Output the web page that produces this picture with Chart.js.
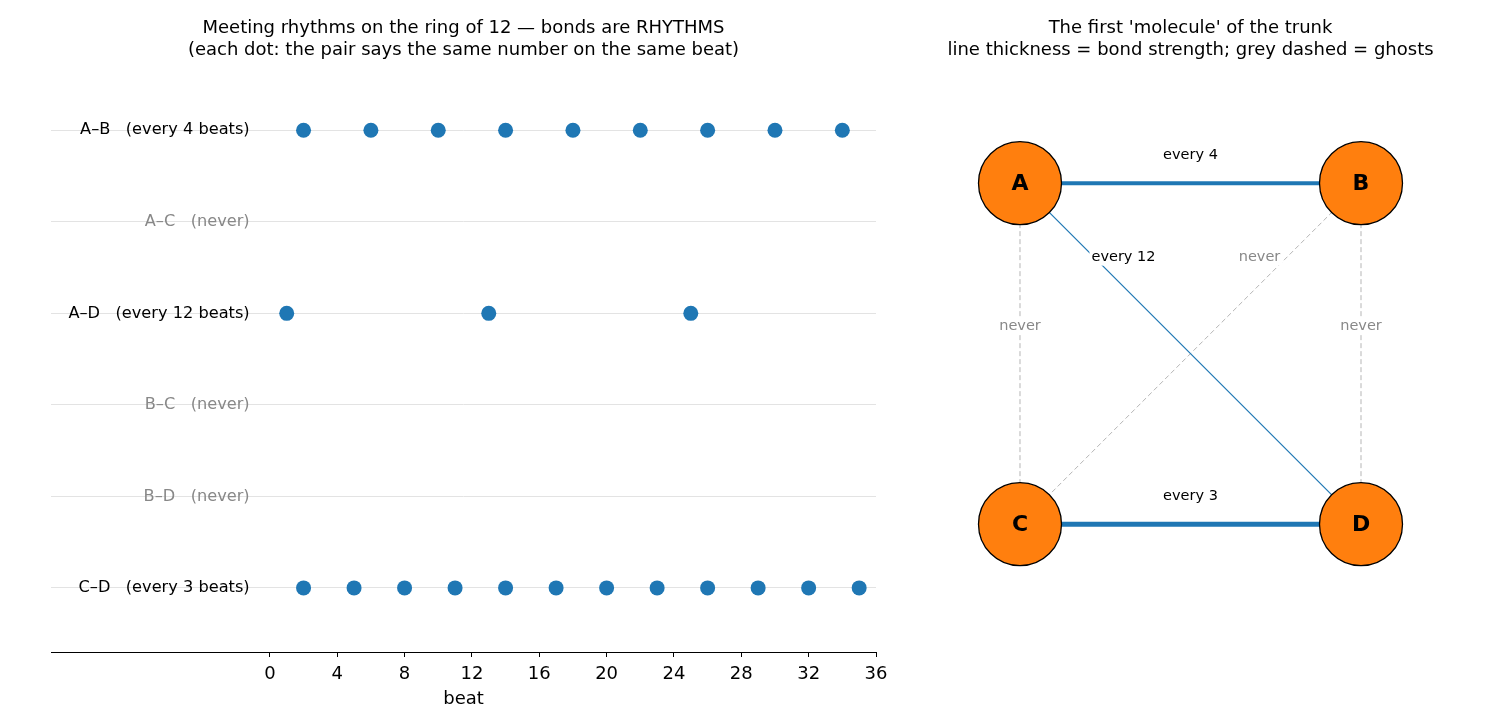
<!DOCTYPE html>
<html>
<head>
<meta charset="utf-8">
<script src="https://cdn.jsdelivr.net/npm/chart.js@4.4.1/dist/chart.umd.min.js"></script>
<style>
  html, body { margin: 0; padding: 0; background: #fff; }
  body { width: 1495px; height: 728px; position: relative; overflow: hidden; }
  canvas { position: absolute; top: 0; }
  #rhythms { left: 0; }
  #molecule { left: 927px; }
</style>
</head>
<body>
<canvas id="rhythms" width="927" height="728"></canvas>
<canvas id="molecule" width="527" height="728"></canvas>
<script>
// Data

const pairs = ["A–B", "A–C", "A–D", "B–C", "B–D", "C–D"];
const pairNotes = ["(every 4 beats)", "(never)", "(every 12 beats)", "(never)", "(never)", "(every 3 beats)"];
const beatsAB = [2, 6, 10, 14, 18, 22, 26, 30, 34];
const beatsAD = [1, 13, 25];
const beatsCD = [2, 5, 8, 11, 14, 17, 20, 23, 26, 29, 32, 35];
const meetings = { "A–B": beatsAB, "A–D": beatsAD, "C–D": beatsCD };
const beatTicks = [0, 4, 8, 12, 16, 20, 24, 28, 32, 36];

const nodes = ["A", "B", "C", "D"];
const nodeX = [0, 1, 0, 1];
const nodeY = [1, 1, 0, 0];
const edges = [
    ["A", "B", "every 4"],
    ["C", "D", "every 3"],
    ["A", "D", "every 12"],
    ["A", "C", "never"],
    ["B", "C", "never"],
    ["B", "D", "never"],
];
const bondStrength = { "A–B": 4, "C–D": 5, "A–D": 1.2 };

// Setup

const FONT = "'DejaVu Sans', sans-serif";
const BLUE = "#1f77b4";
const GREY = "#888888";

Chart.defaults.font.family = FONT;
Chart.defaults.color = "#000";
Chart.defaults.animation = false;

const titleOpts = (lines) => ({
    display: true,
    text: lines,
    color: "#000",
    font: { size: 18, weight: "normal", lineHeight: 1.2 },
    padding: { top: 18, bottom: 5 }
});

const rhythmData = [];
pairs.forEach((p, i) => {
    for (const b of (meetings[p] || [])) rhythmData.push({ x: b, y: i });
});

const rowLabels = {
    id: "rowLabels",
    afterDatasetsDraw(chart) {
        const { ctx, scales: { x, y } } = chart;
        ctx.save();
        ctx.font = "16.2px " + FONT;
        ctx.textAlign = "right";
        ctx.textBaseline = "middle";
        pairs.forEach((p, i) => {
            ctx.fillStyle = meetings[p] ? "#000" : GREY;
            ctx.fillText(p + "   " + pairNotes[i], x.getPixelForValue(-1.2), y.getPixelForValue(i));
        });
        ctx.restore();
    }
};

new Chart(document.getElementById("rhythms"), {
    type: "scatter",
    data: {
        datasets: [{
            data: rhythmData,
            backgroundColor: BLUE,
            borderWidth: 0,
            pointRadius: 7.5,
            pointHoverRadius: 7.5
        }]
    },
    options: {
        responsive: false,
        events: [],
        layout: { autoPadding: false, padding: { left: 51, right: 51, top: 0, bottom: 0 } },
        plugins: {
            legend: { display: false },
            tooltip: { enabled: false },
            title: titleOpts([
                "Meeting rhythms on the ring of 12 — bonds are RHYTHMS",
                "(each dot: the pair says the same number on the same beat)"
            ])
        },
        scales: {
            x: {
                min: -13,
                max: 36,
                afterBuildTicks: (s) => { s.ticks = beatTicks.map(v => ({ value: v })); },
                afterFit: (s) => { s.height = 76; },
                grid: { drawOnChartArea: false, tickLength: 5, tickColor: "#000", tickWidth: 1 },
                border: { display: true, color: "#000", width: 1 },
                ticks: { color: "#000", font: { size: 18 }, padding: 7, maxRotation: 0 },
                title: { display: true, text: "beat", color: "#000", font: { size: 18 }, padding: { top: 0, bottom: 18 } }
            },
            y: {
                min: -0.7,
                max: 5.7,
                reverse: true,
                afterBuildTicks: (s) => { s.ticks = pairs.map((_, i) => ({ value: i })); },
                afterFit: (s) => { s.width = 0; },
                grid: { color: "#e3e3e3", lineWidth: 1, drawTicks: false },
                border: { display: false },
                ticks: { display: false }
            }
        }
    },
    plugins: [rowLabels]
});

// Molecule

const idx = (n) => nodes.indexOf(n);
const edgeDatasets = edges.map(([a, b]) => {
    const w = bondStrength[a + "–" + b];
    return {
        type: "line",
        data: [
            { x: nodeX[idx(a)], y: nodeY[idx(a)] },
            { x: nodeX[idx(b)], y: nodeY[idx(b)] }
        ],
        borderColor: w ? BLUE : "#b5b5b5",
        borderWidth: w || 1,
        borderDash: w ? [] : [5, 3],
        pointRadius: 0,
        pointHoverRadius: 0,
        showLine: true,
        fill: false,
        order: 1
    };
});

// label offsets (pixels) from edge midpoint
const labelOffset = {
    "A–B": [0, -28], "C–D": [0, -28],
    "A–D": [-67, -96], "B–C": [69, -96],
    "A–C": [0, -27], "B–D": [0, -27]
};

const moleculeLabels = {
    id: "moleculeLabels",
    afterDatasetsDraw(chart) {
        const { ctx, scales: { x, y } } = chart;
        ctx.save();
        ctx.textAlign = "center";
        ctx.textBaseline = "middle";
        ctx.font = "14.5px " + FONT;
        for (const [a, b, text] of edges) {
            const key = a + "–" + b;
            const mx = x.getPixelForValue((nodeX[idx(a)] + nodeX[idx(b)]) / 2) + labelOffset[key][0];
            const my = y.getPixelForValue((nodeY[idx(a)] + nodeY[idx(b)]) / 2) + labelOffset[key][1];
            const w = ctx.measureText(text).width;
            ctx.fillStyle = "#fff";
            ctx.fillRect(mx - w / 2 - 2, my - 8, w + 4, 16);
            ctx.fillStyle = bondStrength[key] ? "#000" : GREY;
            ctx.fillText(text, mx, my);
        }
        ctx.font = "bold 22px " + FONT;
        ctx.fillStyle = "#000";
        nodes.forEach((n, i) => {
            ctx.fillText(n, x.getPixelForValue(nodeX[i]), y.getPixelForValue(nodeY[i]) + 1);
        });
        ctx.restore();
    }
};

new Chart(document.getElementById("molecule"), {
    type: "scatter",
    data: {
        datasets: [
            {
                data: nodes.map((n, i) => ({ x: nodeX[i], y: nodeY[i] })),
                backgroundColor: "#ff7f0e",
                borderColor: "#000",
                borderWidth: 1.3,
                pointRadius: 41.5,
                pointHoverRadius: 41.5,
                order: 0
            },
            ...edgeDatasets
        ]
    },
    options: {
        responsive: false,
        events: [],
        layout: { autoPadding: false, padding: { left: 0, right: 0, top: 0, bottom: 76 } },
        plugins: {
            legend: { display: false },
            tooltip: { enabled: false },
            title: titleOpts([
                "The first 'molecule' of the trunk",
                "line thickness = bond strength; grey dashed = ghosts"
            ])
        },
        scales: {
            x: { display: false, min: -0.2727, max: 1.2727 },
            y: { display: false, min: -0.375, max: 1.343 }
        }
    },
    plugins: [moleculeLabels]
});
</script>
</body>
</html>
